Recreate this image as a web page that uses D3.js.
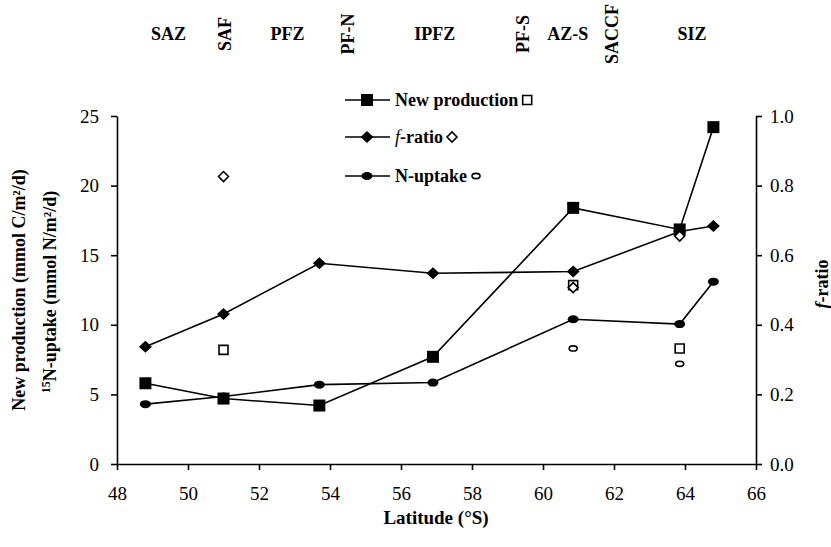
<!DOCTYPE html>
<html>
<head>
<meta charset="utf-8">
<script src="https://cdn.jsdelivr.net/npm/d3@7"></script>
<style>
  body { margin: 0; background: #fff; }
  svg { display: block; font-family: "Liberation Serif", "Times New Roman", serif; }
</style>
</head>
<body>
<div class="container"></div>
<script>
// latitudes of the stations (°S)
const latitude = [48.8, 51.0, 53.7, 56.9, 60.85, 63.85, 64.8];
const newProduction = [5.8, 4.7, 4.2, 7.7, 18.4, 16.85, 24.2];
const fRatio = [0.337, 0.431, 0.577, 0.548, 0.553, 0.668, 0.684];
const nUptake = [4.3, 4.85, 5.7, 5.85, 10.4, 10.05, 13.1];

// open symbols (second set of samples)
const openLat = [51.0, 60.85, 63.85];
const openNewProduction = [8.2, 12.85, 8.3];
const openFRatio = [0.826, 0.507, 0.655];
const openUptakeLat = [60.85, 63.85];
const openUptake = [8.3, 7.2];

// frontal zones across the top
const zones = ["SAZ", "SAF", "PFZ", "PF-N", "IPFZ", "PF-S", "AZ-S", "SACCF", "SIZ"];
const zoneLat = [49.45, 51.05, 52.8, 54.5, 56.95, 59.45, 60.7, 61.95, 64.2];
const zoneRotated = [false, true, false, true, false, true, false, true, false];

const xTicks = [48, 50, 52, 54, 56, 58, 60, 62, 64, 66];
const yLeftTicks = [0, 5, 10, 15, 20, 25];
const yRightTicks = [0, 0.2, 0.4, 0.6, 0.8, 1.0];

const width = 831, height = 547;
const x = d3.scaleLinear().domain([48, 66]).range([117, 756]);
const yL = d3.scaleLinear().domain([0, 25]).range([464, 116]);
const yR = d3.scaleLinear().domain([0, 1]).range([464, 116]);

const svg = d3.select(".container").append("svg")
  .attr("width", width).attr("height", height);

// marker shapes
const square = s => `M${-s / 2},${-s / 2}h${s}v${s}h${-s}Z`;
const diamond = (w, h) => `M0,${-h / 2}L${w / 2},0L0,${h / 2}L${-w / 2},0Z`;

// axes
const styleAxis = g => {
  g.selectAll("path, line").attr("stroke", "#000").attr("stroke-width", 1.6);
  g.selectAll("text").attr("fill", "#000").attr("font-size", 19)
    .attr("font-family", "Liberation Serif");
};
svg.append("g").attr("transform", "translate(0,464)")
  .call(d3.axisBottom(x).tickValues(xTicks).tickSize(6).tickSizeOuter(0).tickPadding(17))
  .call(styleAxis);
svg.append("g").attr("transform", "translate(117,0)")
  .call(d3.axisLeft(yL).tickValues(yLeftTicks).tickSize(6).tickSizeOuter(0).tickPadding(12))
  .call(styleAxis);
svg.append("g").attr("transform", "translate(756,0)")
  .call(d3.axisRight(yR).tickValues(yRightTicks).tickSize(6).tickSizeOuter(0).tickPadding(8)
    .tickFormat(d3.format(".1f")))
  .call(styleAxis);

// axis titles
svg.append("text").attr("x", 436).attr("y", 524).attr("text-anchor", "middle")
  .attr("font-size", 19).attr("font-weight", "bold").text("Latitude (°S)");
svg.append("text").attr("transform", "translate(25,290) rotate(-90)")
  .attr("text-anchor", "middle").attr("font-size", 18).attr("font-weight", "bold")
  .text("New production (mmol C/m²/d)");
const t2 = svg.append("text").attr("transform", "translate(56,292) rotate(-90)")
  .attr("text-anchor", "middle").attr("font-size", 18).attr("font-weight", "bold");
t2.append("tspan").attr("font-size", 12).attr("dy", -6).text("15");
t2.append("tspan").attr("dy", 6).text("N-uptake (mmol N/m²/d)");
const t3 = svg.append("text").attr("transform", "translate(828,284) rotate(-90)")
  .attr("text-anchor", "middle").attr("font-size", 18).attr("font-weight", "bold");
t3.append("tspan").attr("font-style", "italic").text("f");
t3.append("tspan").text("-ratio");

// zone labels
svg.append("g").selectAll("text").data(zones).join("text")
  .attr("transform", (d, i) => `translate(${x(zoneLat[i])},34)` + (zoneRotated[i] ? " rotate(-90)" : ""))
  .attr("text-anchor", "middle").attr("dominant-baseline", "central")
  .attr("font-size", 18).attr("font-weight", "bold")
  .text(d => d);

// lines
const line = y => d3.line().x((d, i) => x(latitude[i])).y(d => y(d));
const lines = svg.append("g").attr("fill", "none").attr("stroke", "#000").attr("stroke-width", 1.6);
lines.append("path").attr("d", line(yL)(newProduction));
lines.append("path").attr("d", line(yR)(fRatio));
lines.append("path").attr("d", line(yL)(nUptake));

// filled markers
svg.append("g").selectAll("path").data(newProduction).join("path")
  .attr("transform", (d, i) => `translate(${x(latitude[i])},${yL(d)})`)
  .attr("d", square(12)).attr("fill", "#000");
svg.append("g").selectAll("path").data(fRatio).join("path")
  .attr("transform", (d, i) => `translate(${x(latitude[i])},${yR(d)})`)
  .attr("d", diamond(13, 12)).attr("fill", "#000");
svg.append("g").selectAll("ellipse").data(nUptake).join("ellipse")
  .attr("cx", (d, i) => x(latitude[i])).attr("cy", d => yL(d))
  .attr("rx", 5.5).attr("ry", 4).attr("fill", "#000");

// open markers
const open = svg.append("g").attr("fill", "#fff").attr("stroke", "#000").attr("stroke-width", 1.6);
open.selectAll(".osq").data(openNewProduction).join("path").attr("class", "osq")
  .attr("transform", (d, i) => `translate(${x(openLat[i])},${yL(d)})`)
  .attr("d", square(9));
open.selectAll(".odm").data(openFRatio).join("path").attr("class", "odm")
  .attr("transform", (d, i) => `translate(${x(openLat[i])},${yR(d)})`)
  .attr("d", diamond(10, 10));
open.selectAll("ellipse").data(openUptake).join("ellipse")
  .attr("cx", (d, i) => x(openUptakeLat[i])).attr("cy", d => yL(d))
  .attr("rx", 4).attr("ry", 2.6);

// legend
const legendRows = [
  { label: ["New production"], y: 100, filled: g => g.append("path").attr("d", square(12)),
    hollow: g => g.append("path").attr("d", square(9)) },
  { label: ["f", "-ratio"], y: 137, filled: g => g.append("path").attr("d", diamond(13, 12)),
    hollow: g => g.append("path").attr("d", diamond(10, 10)) },
  { label: ["N-uptake"], y: 176, filled: g => g.append("ellipse").attr("rx", 5.5).attr("ry", 4),
    hollow: g => g.append("ellipse").attr("rx", 4).attr("ry", 2.6) }
];
legendRows.forEach(r => {
  const g = svg.append("g").attr("transform", `translate(0,${r.y})`);
  g.append("line").attr("x1", 345).attr("x2", 390).attr("stroke", "#000").attr("stroke-width", 1.6);
  r.filled(g.append("g").attr("transform", "translate(367,0)").attr("fill", "#000"));
  const txt = g.append("text").attr("x", 395).attr("dominant-baseline", "central")
    .attr("font-size", 18).attr("font-weight", "bold");
  if (r.label.length > 1) {
    txt.append("tspan").attr("font-style", "italic").attr("font-weight", "normal").text(r.label[0]);
    txt.append("tspan").text(r.label[1]);
  } else {
    txt.text(r.label[0]);
  }
  const w = txt.node().getComputedTextLength();
  r.hollow(g.append("g").attr("transform", `translate(${395 + w + 9},0)`)
    .attr("fill", "#fff").attr("stroke", "#000").attr("stroke-width", 1.6));
});
</script>
</body>
</html>
